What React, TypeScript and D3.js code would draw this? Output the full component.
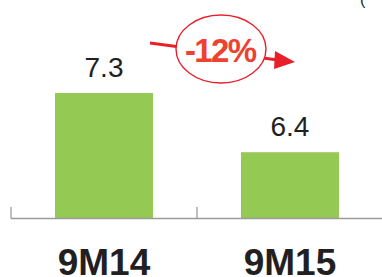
import { useEffect, useRef } from 'react';
import * as d3 from 'd3';

const periods = ['9M14', '9M15'];
const values = [7.3, 6.4];
const changeLabel = '-12%';

export default function App() {
  const svgRef = useRef<SVGSVGElement | null>(null);

  useEffect(() => {
    if (!svgRef.current) return;
    const width = 382;
    const height = 277;
    const svg = d3.select(svgRef.current).attr('width', width).attr('height', height);
    svg.selectAll('*').remove();

    const axisY = 218;

    const x = d3.scaleBand<string>().domain(periods).range([11, 383]).paddingInner(0.473).paddingOuter(0.2366);
    // value axis does not start at zero in the original
    const y = d3.scaleLinear().domain([5.4, 7.3]).range([axisY, 93]);

    const data = periods.map((p, i) => ({ p, v: values[i] }));

    svg
      .selectAll('rect.bar')
      .data(data)
      .join('rect')
      .attr('class', 'bar')
      .attr('x', (d) => x(d.p)!)
      .attr('y', (d) => y(d.v))
      .attr('width', x.bandwidth())
      .attr('height', (d) => axisY - y(d.v))
      .attr('fill', '#94c954');

    // category axis with tick marks at category boundaries
    const step = x.step();
    svg
      .append('line')
      .attr('x1', 11)
      .attr('x2', width)
      .attr('y1', axisY + 0.5)
      .attr('y2', axisY + 0.5)
      .attr('stroke', '#9b9b9b')
      .attr('stroke-width', 1.3);
    periods.forEach((_, i) => {
      const tx = 11 + i * step;
      svg
        .append('line')
        .attr('x1', tx)
        .attr('x2', tx)
        .attr('y1', axisY - 11)
        .attr('y2', axisY + 0.5)
        .attr('stroke', '#9b9b9b')
        .attr('stroke-width', 1.3);
    });

    svg
      .selectAll('text.val')
      .data(data)
      .join('text')
      .attr('class', 'val')
      .attr('x', (d) => x(d.p)! + x.bandwidth() / 2)
      .attr('y', (d) => y(d.v) - 16)
      .attr('text-anchor', 'middle')
      .attr('font-family', 'Liberation Sans, Arial, sans-serif')
      .attr('font-size', 28)
      .attr('fill', '#231f20')
      .text((d) => d.v.toFixed(1));

    svg
      .selectAll('text.cat')
      .data(periods)
      .join('text')
      .attr('class', 'cat')
      .attr('x', (d) => x(d)! + x.bandwidth() / 2)
      .attr('y', 275)
      .attr('text-anchor', 'middle')
      .attr('font-family', 'Liberation Sans, Arial, sans-serif')
      .attr('font-weight', 'bold')
      .attr('font-size', 37)
      .attr('fill', '#231f20')
      .text((d) => d);

    // change annotation
    const red = '#e8202a';
    svg
      .append('line')
      .attr('x1', 150)
      .attr('y1', 43)
      .attr('x2', 278)
      .attr('y2', 60)
      .attr('stroke', red)
      .attr('stroke-width', 3);
    svg
      .append('path')
      .attr('d', 'M295,62 L275,51 L274,69 Z')
      .attr('fill', red);
    svg
      .append('ellipse')
      .attr('cx', 221)
      .attr('cy', 49)
      .attr('rx', 45)
      .attr('ry', 34)
      .attr('fill', '#fff')
      .attr('stroke', red)
      .attr('stroke-width', 1.4);
    svg
      .append('text')
      .attr('x', 221)
      .attr('y', 62)
      .attr('text-anchor', 'middle')
      .attr('font-family', 'Liberation Sans, Arial, sans-serif')
      .attr('font-weight', 'bold')
      .attr('font-size', 33)
      .attr('textLength', 72)
      .attr('fill', '#ef4130')
      .text(changeLabel);

    svg
      .append('text')
      .attr('x', 360)
      .attr('y', 5)
      .attr('font-family', 'Liberation Sans, Arial, sans-serif')
      .attr('font-size', 16)
      .attr('fill', '#231f20')
      .text('(');
  }, []);

  return <svg ref={svgRef} style={{ position: 'absolute', left: 0, top: 0 }}></svg>;
}
